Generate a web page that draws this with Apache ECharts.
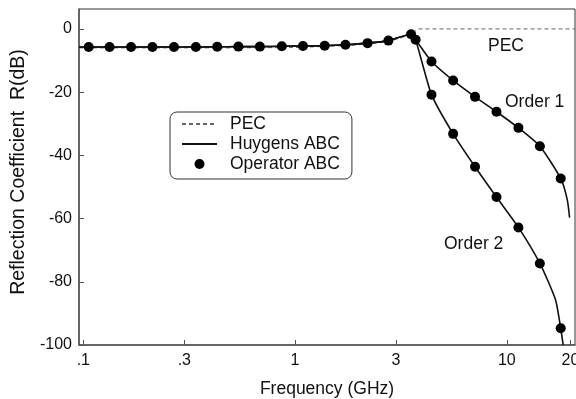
<!DOCTYPE html>
<html>
<head>
<meta charset="utf-8">
<script src="https://cdn.jsdelivr.net/npm/echarts@6/dist/echarts.min.js"></script>
<style>
  html, body { margin: 0; padding: 0; background: #fff; }
  #chart { width: 576px; height: 399px; }
</style>
</head>
<body>
<div id="chart"></div>
<script>
// frequencies (GHz) of the markers below cut-off, shared by both ABC orders
const freqLow = [0.106, 0.133, 0.168, 0.212, 0.268, 0.340, 0.429, 0.540, 0.682, 0.866, 1.09, 1.38, 1.73, 2.20, 2.76, 3.53, 3.71];
const rLow = [-5.7, -5.7, -5.7, -5.7, -5.7, -5.7, -5.65, -5.6, -5.6, -5.5, -5.4, -5.3, -5.0, -4.5, -3.7, -1.7, -3.4];

// markers above cut-off
const freqHigh = [4.41, 5.58, 7.08, 8.94, 11.35, 14.33, 17.98];
const rOrder1 = [-10.3, -16.3, -21.5, -26.2, -31.3, -37.1, -47.3];
const rOrder2 = [-20.8, -33.2, -43.6, -53.2, -62.8, -74.2, -94.7];

// extra points of the solid (Huygens) curves
const huyStartFreq = 0.0954;
const huyStartR = -5.7;
const order1TailFreq = [19.3, 19.8];
const order1TailR = [-54.0, -59.7];
const order2TailFreq = [16.97, 18.46];
const order2TailR = [-85.6, -100];

// PEC reference
const pecFreq = [0.0954, 0.5, 1.0, 1.73, 2.2, 2.76, 3.53, 3.8, 21];
const pecR = [-6.0, -6.0, -5.9, -5.3, -4.8, -4.0, -1.9, 0, 0];

const xTicks = [0.1, 0.3, 1, 3, 10, 20];
const yTicks = [-100, -80, -60, -40, -20, 0];
const freqMin = 0.0954;
const freqMax = 21;

const font = 'Liberation Sans, Arial, Helvetica, sans-serif';

// the x axis is a value axis on log10(frequency)
function pairs(xs, ys) {
  return xs.map((x, i) => [Math.log10(x), ys[i]]);
}

function huygensCurve(tailF, tailR, highR) {
  const pts = pairs([huyStartFreq], [huyStartR])
    .concat(pairs(freqLow, rLow))
    .concat(pairs(freqHigh, highR))
    .concat(pairs(tailF, tailR));
  return pts.sort((a, b) => a[0] - b[0]);
}

const chart = echarts.init(document.getElementById('chart'));

const option = {
  animation: false,
  textStyle: { fontFamily: font },
  grid: {
    left: 79, right: 1, top: 9, bottom: 54,
    outerBoundsMode: 'none',
    show: true, borderColor: '#333', borderWidth: 1
  },
  legend: {
    data: [
      { name: 'PEC', itemStyle: { opacity: 0 } },
      { name: 'Huygens ABC', itemStyle: { opacity: 0 } },
      { name: 'Operator ABC' }
    ],
    orient: 'vertical',
    left: 170,
    top: 112,
    itemWidth: 35,
    itemHeight: 10,
    itemGap: 2,
    padding: [3, 12, 6, 11],
    borderColor: '#333',
    borderWidth: 1,
    borderRadius: 7,
    textStyle: { fontSize: 17.5, color: '#111', fontFamily: font, padding: [0, 0, 0, 8] }
  },
  xAxis: {
    type: 'value',
    min: Math.log10(freqMin),
    max: Math.log10(freqMax),
    name: 'Frequency (GHz)',
    nameLocation: 'middle',
    nameGap: 35,
    nameTextStyle: { fontSize: 17.5, color: '#111', fontFamily: font },
    axisLine: { onZero: false, lineStyle: { color: '#555', width: 1.5 } },
    axisTick: { inside: true, length: 5, customValues: xTicks.map(Math.log10), lineStyle: { color: '#555' } },
    splitLine: { show: false },
    axisLabel: {
      customValues: xTicks.map(Math.log10),
      fontSize: 16,
      color: '#111',
      margin: 8,
      formatter: v => {
        const n = Number(Math.pow(10, v).toPrecision(3));
        return n < 1 ? String(n).replace(/^0/, '') : String(n);
      }
    }
  },
  yAxis: {
    type: 'value',
    min: -100,
    max: 6.3,
    interval: 20,
    name: 'Reflection Coefficient  R(dB)',
    nameLocation: 'middle',
    nameGap: 48,
    nameTextStyle: { fontSize: 19.5, color: '#111', fontFamily: font, padding: [0, 0, 0, 10] },
    axisLine: { show: true, onZero: false, lineStyle: { color: '#555', width: 1.5 } },
    axisTick: { show: true, inside: true, length: 5, customValues: yTicks, lineStyle: { color: '#555' } },
    splitLine: { show: false },
    axisLabel: { customValues: yTicks, fontSize: 16, color: '#111', margin: 7 }
  },
  series: [
    {
      name: 'PEC',
      type: 'line',
      data: pairs(pecFreq, pecR),
      symbol: 'none',
      lineStyle: { color: '#666', width: 1, type: [4, 3] },
      itemStyle: { color: '#666' },
      z: 1
    },
    {
      name: 'Huygens ABC',
      type: 'line',
      data: huygensCurve(order1TailFreq, order1TailR, rOrder1),
      symbol: 'none',
      smooth: 0.2,
      lineStyle: { color: '#111', width: 1.6 },
      itemStyle: { color: '#111' },
      z: 2
    },
    {
      name: 'Huygens ABC',
      type: 'line',
      data: huygensCurve(order2TailFreq, order2TailR, rOrder2),
      symbol: 'none',
      smooth: 0.2,
      lineStyle: { color: '#111', width: 1.6 },
      itemStyle: { color: '#111' },
      z: 2
    },
    {
      name: 'Operator ABC',
      type: 'scatter',
      data: pairs(freqLow, rLow).concat(pairs(freqHigh, rOrder1), pairs(freqHigh, rOrder2)),
      symbol: 'circle',
      symbolSize: 10,
      itemStyle: { color: '#000', opacity: 1 },
      z: 3
    }
  ],
  graphic: [
    { type: 'text', left: 488, top: 37, style: { text: 'PEC', font: '17.5px ' + font, fill: '#111' } },
    { type: 'text', left: 505, top: 93, style: { text: 'Order 1', font: '17.5px ' + font, fill: '#111' } },
    { type: 'text', left: 444, top: 235, style: { text: 'Order 2', font: '17.5px ' + font, fill: '#111' } }
  ]
};

chart.setOption(option);
</script>
</body>
</html>
